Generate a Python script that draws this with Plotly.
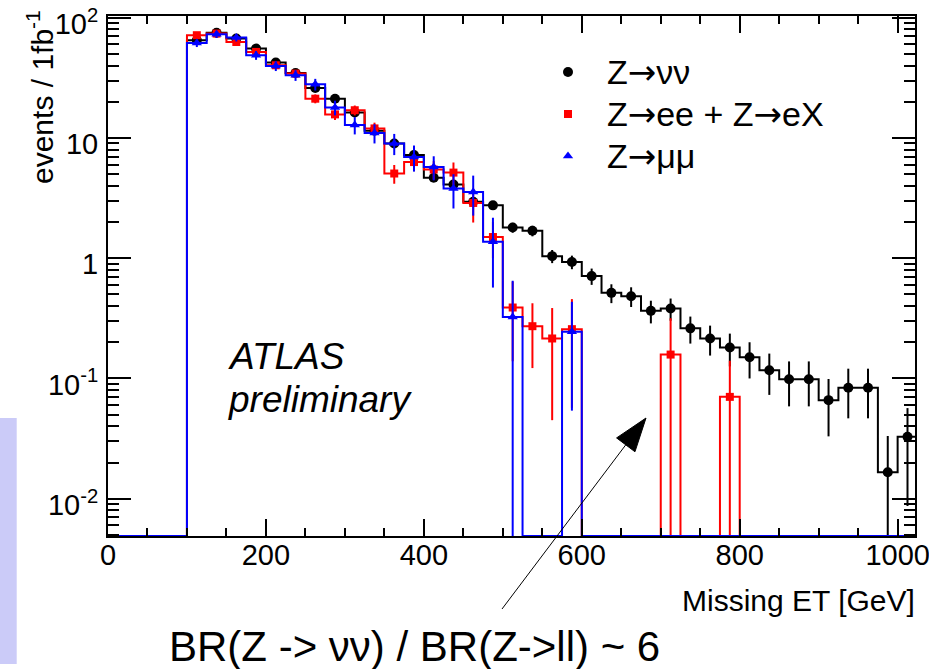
import plotly.graph_objects as go
import math

# ---------------- data (25 GeV bins, 0 - 1025 GeV) ----------------
bin_edges = list(range(0, 1026, 25))

zvv = [0, 0, 0, 0,
       64.9, 75.0, 67.0, 55.4, 42.4, 34.7, 26.0, 21.2, 16.3, 11.5,
       9.0, 7.2, 4.66, 4.1, 2.95, 2.75, 1.80, 1.69, 1.04, 0.93,
       0.71, 0.515, 0.483, 0.365, 0.382, 0.261, 0.215, 0.181, 0.150,
       0.117, 0.0986, 0.0986, 0.066, 0.0836, 0.0836, 0.0166, 0.0327]
zvv_err = [0, 0, 0, 0,
           1.0, 1.1, 1.05, 0.95, 0.84, 0.76, 0.66, 0.59, 0.52, 0.44,
           0.39, 0.35, 0.28, 0.26, 0.22, 0.21, 0.17, 0.17, 0.13, 0.12,
           0.11, 0.092, 0.09, 0.078, 0.08, 0.066, 0.06, 0.055, 0.05,
           0.044, 0.04, 0.04, 0.033, 0.037, 0.037, 0.0166, 0.024]

zee = [0, 0, 0, 0,
       71.5, 73.8, 62.8, 51.9, 40.2, 34.3, 21.2, 15.7, 17.0, 12.0,
       5.06, 6.3, 5.46, 5.15, 2.88, 1.50, 0.389, 0.272, 0.215, 0.257,
       0, 0, 0, 0, 0.158, 0, 0, 0.0703, 0,
       0, 0, 0, 0, 0, 0, 0, 0]
zee_err = [0, 0, 0, 0,
           3.4, 3.4, 3.2, 2.9, 2.5, 2.3, 1.8, 1.6, 1.6, 1.4,
           0.9, 1.0, 0.95, 1.1, 0.9, 0.5, 0.25, 0.15, 0.17, 0.2,
           0, 0, 0, 0, 0.158, 0, 0, 0.0703, 0,
           0, 0, 0, 0, 0, 0, 0, 0]

zmm = [0, 0, 0, 0,
       61.6, 72.8, 68.3, 48.7, 39.7, 33.2, 27.9, 17.9, 12.8, 11.0,
       9.0, 6.95, 5.74, 3.79, 3.56, 1.37, 0.325, 0, 0, 0.244,
       0, 0, 0, 0, 0, 0, 0, 0, 0,
       0, 0, 0, 0, 0, 0, 0, 0]
zmm_err = [0, 0, 0, 0,
           4.6, 5.0, 4.9, 4.1, 3.7, 3.4, 3.1, 2.5, 2.1, 2.0,
           1.8, 1.7, 1.3, 1.2, 1.3, 0.8, 0.325, 0, 0, 0.19,
           0, 0, 0, 0, 0, 0, 0, 0, 0,
           0, 0, 0, 0, 0, 0, 0, 0]

ARROW = '<span style="font-family:DejaVu Sans">\u2192</span>'
legend_names = ["Z" + ARROW + "\u03bd\u03bd",
                "Z" + ARROW + "ee + Z" + ARROW + "eX",
                "Z" + ARROW + "\u03bc\u03bc"]

series = [
    (legend_names[0], zvv, zvv_err, "#000000", "circle", 10),
    (legend_names[1], zee, zee_err, "#ff0000", "square", 8),
    (legend_names[2], zmm, zmm_err, "#0000ff", "triangle-up", 9),
]

y_tickvals = [0.01, 0.1, 1, 10, 100]
y_ticktext = ["10<sup>-2</sup>", "10<sup>-1</sup>", "1", "10", "10<sup>2</sup>"]

# ---------------- layout geometry ----------------
W, H = 929, 669
PL, PR, PT, PB = 108, 915, 16, 536
Y_LOG_RANGE = [-2.31, 2.014]
X_RANGE = [0, 1022]
FLOOR = 10 ** Y_LOG_RANGE[0]
FONT = "Liberation Sans, Arial, Helvetica, sans-serif"


def px_x(px):
    return (px - PL) / (PR - PL)


def px_y(py):
    return (PB - py) / (PB - PT)


fig = go.Figure()
centers = [(bin_edges[i] + bin_edges[i + 1]) / 2 for i in range(len(bin_edges) - 1)]

for name, vals, errs, col, sym, msize in series:
    step_y = [v if v > 0 else FLOOR for v in vals]
    fig.add_trace(go.Scatter(
        x=bin_edges, y=step_y + [step_y[-1]], mode="lines",
        line=dict(color=col, width=2, shape="hv"),
        showlegend=False, hoverinfo="skip"))
    idx = [i for i, v in enumerate(vals) if v > 0]
    fig.add_trace(go.Scatter(
        x=[centers[i] for i in idx], y=[vals[i] for i in idx],
        mode="markers",
        name='<span style="font-size:34px">\u00a0\u00a0' + name + '</span>',
        marker=dict(color=col, symbol=sym, size=msize),
        error_y=dict(type="data", array=[errs[i] for i in idx],
                     color=col, thickness=2, width=0, visible=True)))

axis_common = dict(showline=True, linecolor="black", linewidth=2, mirror="allticks",
                   ticks="inside", tickcolor="black", showgrid=False, zeroline=False,
                   ticklabeloverflow="allow", automargin=False,
                   tickfont=dict(family=FONT, size=29, color="black"))

fig.update_xaxes(range=X_RANGE, tick0=0, dtick=200, ticklen=17, tickwidth=2,
                 minor=dict(ticks="inside", dtick=50, ticklen=8, tickwidth=1.5,
                            tickcolor="black", showgrid=False),
                 ticklabelstandoff=-8,
                 **axis_common)
fig.update_yaxes(type="log", range=Y_LOG_RANGE, tickmode="array",
                 tickvals=y_tickvals, ticktext=y_ticktext, ticklen=23, tickwidth=2,
                 minor=dict(ticks="inside", dtick="D1", ticklen=11, tickwidth=1.5,
                            tickcolor="black", showgrid=False),
                 ticklabelstandoff=2, ticklabelshift=6,
                 **axis_common)

# arrow geometry (pixels)
tail = (502, 609)
tip = (646, 418)
head_len, head_w = 33.6, 23.0
dx, dy = tip[0] - tail[0], tip[1] - tail[1]
L = math.hypot(dx, dy)
ux, uy = dx / L, dy / L
bx, by = tip[0] - ux * head_len, tip[1] - uy * head_len
p1 = (bx - uy * head_w / 2, by + ux * head_w / 2)
p2 = (bx + uy * head_w / 2, by - ux * head_w / 2)


def pp(p):
    return f"{px_x(p[0]):.5f},{px_y(p[1]):.5f}"


shapes = [
    dict(type="rect", xref="paper", yref="paper",
         x0=px_x(0), x1=px_x(16.7), y0=px_y(664), y1=px_y(418),
         fillcolor="#cbcbf8", line=dict(width=0), layer="below"),
    dict(type="line", xref="paper", yref="paper",
         x0=px_x(tail[0]), y0=px_y(tail[1]), x1=px_x(bx), y1=px_y(by),
         line=dict(color="black", width=1)),
    dict(type="path", xref="paper", yref="paper",
         path=f"M{pp(tip)} L{pp(p1)} L{pp(p2)} Z",
         fillcolor="black", line=dict(color="black", width=1)),
]

annotations = [
    dict(text="events / 1fb<sup>-1</sup>", xref="paper", yref="paper",
         x=px_x(40), y=px_y(97), textangle=-90, showarrow=False,
         xanchor="center", yanchor="middle",
         font=dict(family=FONT, size=30, color="black")),
    dict(text="Missing ET [GeV]", xref="paper", yref="paper",
         x=px_x(917), y=px_y(600), showarrow=False,
         xanchor="right", yanchor="middle",
         font=dict(family=FONT, size=30, color="black")),
    dict(text="<i>ATLAS</i>", xref="paper", yref="paper",
         x=px_x(226), y=px_y(356), showarrow=False,
         xanchor="left", yanchor="middle",
         font=dict(family=FONT, size=37, color="black")),
    dict(text="<i>preliminary</i>", xref="paper", yref="paper",
         x=px_x(226), y=px_y(399), showarrow=False,
         xanchor="left", yanchor="middle",
         font=dict(family=FONT, size=37, color="black")),
    dict(text="BR(Z -> \u03bd\u03bd) / BR(Z->ll) ~ 6", xref="paper", yref="paper",
         x=px_x(414), y=px_y(646), showarrow=False,
         xanchor="center", yanchor="middle",
         font=dict(family=FONT, size=42, color="black")),
]

fig.update_layout(
    width=W, height=H,
    margin=dict(l=PL, r=W - PR, t=PT, b=H - PB, pad=0, autoexpand=False),
    paper_bgcolor="white", plot_bgcolor="white",
    font=dict(family=FONT, color="black"),
    showlegend=True,
    legend=dict(x=px_x(548), y=px_y(46), xanchor="left", yanchor="top",
                bgcolor="rgba(0,0,0,0)", font=dict(family=FONT, size=30, color="black"),
                itemsizing="trace", tracegroupgap=0),
    shapes=shapes, annotations=annotations,
)

fig.write_html("out.html")
